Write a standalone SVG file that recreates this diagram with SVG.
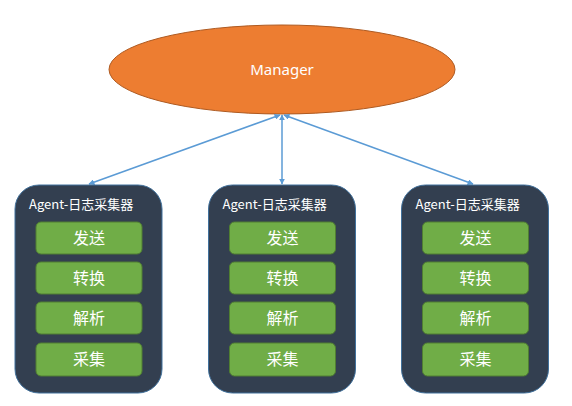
<svg xmlns="http://www.w3.org/2000/svg" width="572" height="406" viewBox="0 0 572 406">
<defs>
<marker id="ah" viewBox="0 0 10 10" refX="9" refY="5" markerWidth="6" markerHeight="6" orient="auto-start-reverse" markerUnits="userSpaceOnUse">
<path d="M0,0 L10,5 L0,10 z" fill="#5B9BD5"/>
</marker>
<style>
.agent{fill:#333F50;stroke:#41719C;stroke-width:1}
.step{fill:#70AD47;stroke:#507E32;stroke-width:1}
.title{font-family:"Noto Sans CJK SC","Noto Sans",sans-serif;font-size:13px;fill:#FFFFFF}
.lbl{font-family:"Noto Sans CJK SC","Noto Sans",sans-serif;font-size:16px;fill:#FFFFFF;text-anchor:middle}
.conn{stroke:#5B9BD5;stroke-width:1.5;fill:none;marker-start:url(#ah);marker-end:url(#ah)}
</style>
</defs>
<rect width="572" height="406" fill="#FFFFFF"/>
<g id="manager">
<ellipse cx="282" cy="69.5" rx="173" ry="44.5" fill="#ED7D31" stroke="#AE5A21" stroke-width="1"/>
<text x="282" y="75" font-family="'Noto Sans','Liberation Sans',sans-serif" font-size="15" fill="#FFFFFF" text-anchor="middle">Manager</text>
</g>
<g id="connectors">
<line class="conn" x1="280" y1="115" x2="89" y2="184"/>
<line class="conn" x1="282" y1="115" x2="282" y2="184"/>
<line class="conn" x1="284" y1="115" x2="473" y2="184"/>
</g>
<g id="agent1">
<rect class="agent" x="15" y="185" width="147" height="208" rx="24"/>
<text class="title" x="29" y="209">Agent-日志采集器</text>
<g id="agent1-send"><rect class="step" x="36" y="222" width="106" height="32" rx="5"/><text class="lbl" x="89" y="244">发送</text></g>
<g id="agent1-convert"><rect class="step" x="36" y="262" width="106" height="32" rx="5"/><text class="lbl" x="89" y="284">转换</text></g>
<g id="agent1-parse"><rect class="step" x="36" y="302" width="106" height="32" rx="5"/><text class="lbl" x="89" y="324">解析</text></g>
<g id="agent1-collect"><rect class="step" x="36" y="343" width="106" height="33" rx="5"/><text class="lbl" x="89" y="365">采集</text></g>
</g>
<g id="agent2">
<rect class="agent" x="208.5" y="185" width="147" height="208" rx="24"/>
<text class="title" x="222.5" y="209">Agent-日志采集器</text>
<g id="agent2-send"><rect class="step" x="229.5" y="222" width="106" height="32" rx="5"/><text class="lbl" x="282.5" y="244">发送</text></g>
<g id="agent2-convert"><rect class="step" x="229.5" y="262" width="106" height="32" rx="5"/><text class="lbl" x="282.5" y="284">转换</text></g>
<g id="agent2-parse"><rect class="step" x="229.5" y="302" width="106" height="32" rx="5"/><text class="lbl" x="282.5" y="324">解析</text></g>
<g id="agent2-collect"><rect class="step" x="229.5" y="343" width="106" height="33" rx="5"/><text class="lbl" x="282.5" y="365">采集</text></g>
</g>
<g id="agent3">
<rect class="agent" x="401.5" y="185" width="147" height="208" rx="24"/>
<text class="title" x="415.5" y="209">Agent-日志采集器</text>
<g id="agent3-send"><rect class="step" x="422.5" y="222" width="106" height="32" rx="5"/><text class="lbl" x="475.5" y="244">发送</text></g>
<g id="agent3-convert"><rect class="step" x="422.5" y="262" width="106" height="32" rx="5"/><text class="lbl" x="475.5" y="284">转换</text></g>
<g id="agent3-parse"><rect class="step" x="422.5" y="302" width="106" height="32" rx="5"/><text class="lbl" x="475.5" y="324">解析</text></g>
<g id="agent3-collect"><rect class="step" x="422.5" y="343" width="106" height="33" rx="5"/><text class="lbl" x="475.5" y="365">采集</text></g>
</g>
</svg>
